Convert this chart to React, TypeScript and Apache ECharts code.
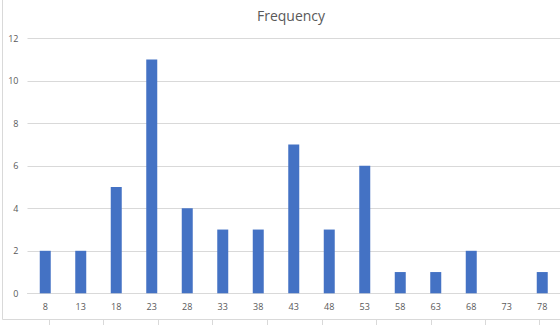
import React, { useEffect, useRef } from "react";
import * as echarts from "echarts";

const categories = ["8", "13", "18", "23", "28", "33", "38", "43", "48", "53", "58", "63", "68", "73", "78"];
const frequency = [2, 2, 5, 11, 4, 3, 3, 7, 3, 6, 1, 1, 2, 0, 1];
const cellLineXs = [49, 103, 158, 212, 267, 322, 376, 431, 485, 539];

export default function App() {
  const ref = useRef<HTMLDivElement>(null);
  useEffect(() => {
    if (!ref.current) return;
    const chart = echarts.init(ref.current, null, { renderer: "svg" });
    const font = "'Open Sans', 'Liberation Sans', sans-serif";
    chart.setOption({
      animation: false,
      title: {
        text: "Frequency",
        left: 286,
        top: 3,
        textAlign: "center",
        textStyle: { fontFamily: font, fontSize: 14, fontWeight: "normal", color: "#595959" },
      },
      grid: { left: 27.5, top: 38.3, width: 536, height: 255 },
      xAxis: {
        type: "category",
        data: categories,
        boundaryGap: true,
        axisLine: { show: true, lineStyle: { color: "#d9d9d9" } },
        axisTick: { show: false },
        axisLabel: { fontFamily: font, fontSize: 9, color: "#595959", margin: 9 },
      },
      yAxis: {
        type: "value",
        min: 0,
        max: 12,
        interval: 2,
        axisLine: { show: false },
        axisTick: { show: false },
        splitLine: { lineStyle: { color: "#d9d9d9" } },
        axisLabel: { fontFamily: font, fontSize: 9, color: "#595959", margin: 9 },
      },
      series: [
        {
          type: "bar",
          data: frequency,
          barWidth: 11,
          itemStyle: { color: "#4472C4" },
        },
      ],
      graphic: [
        {
          type: "rect",
          shape: { x: 2.5, y: -2, width: 600, height: 321.5 },
          style: { fill: "none", stroke: "#d9d9d9", lineWidth: 1 },
          silent: true,
        },
        ...cellLineXs.map((x) => ({
          type: "line",
          shape: { x1: x + 0.5, y1: 320, x2: x + 0.5, y2: 326 },
          style: { stroke: "#d9d9d9", lineWidth: 1 },
          silent: true,
        })),
      ],
    });
    return () => chart.dispose();
  }, []);
  return <div ref={ref} style={{ width: 560, height: 325, position: "absolute", left: 0, top: 0 }} />;
}
